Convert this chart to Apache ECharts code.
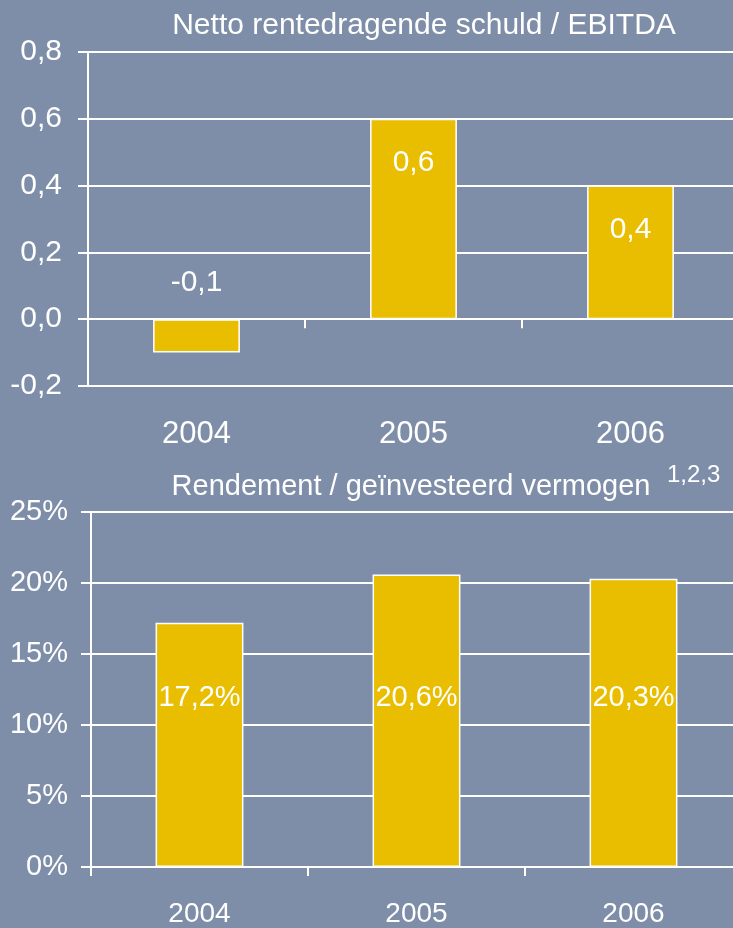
<!DOCTYPE html>
<html>
<head>
<meta charset="utf-8">
<script src="https://cdn.jsdelivr.net/npm/echarts@6/dist/echarts.min.js"></script>
<style>
  html, body { margin: 0; padding: 0; background: #7f8ea8; overflow: hidden; }
  #chart { width: 745px; height: 928px; }
</style>
</head>
<body>
<div id="chart"></div>
<script>
// data
const years = ['2004', '2005', '2006']
const debtRatio = [-0.1, 0.6, 0.4]
const returnPct = [17.2, 20.6, 20.3]
const debtTicks = { min: -0.2, max: 0.8, interval: 0.2 }
const returnTicks = { min: 0, max: 25, interval: 5 }

const white = '#ffffff'
const gold = '#e9be00'
const font = 'Liberation Sans, Arial, sans-serif'
const comma = (v, d) => v.toFixed(d).replace('.', ',')

// chart is a bit wider than the window so the plot runs off the right edge
const chart = echarts.init(document.getElementById('chart'))

const debtData = debtRatio.map(v => ({
  value: v,
  label: v < 0
    ? { position: 'top', distance: 21 }
    : { position: 'insideTop', distance: 29 }
}))

chart.setOption({
  backgroundColor: '#7f8ea8',
  animation: false,
  textStyle: { fontFamily: font },
  title: [
    {
      text: 'Netto rentedragende schuld / EBITDA',
      left: 419, top: 6, textAlign: 'center',
      textStyle: { color: white, fontSize: 30, fontWeight: 'normal', fontFamily: font }
    },
    {
      text: 'Rendement / geïnvesteerd vermogen',
      left: 406, top: 467, textAlign: 'center',
      textStyle: { color: white, fontSize: 29, fontWeight: 'normal', fontFamily: font }
    },
    {
      text: '1,2,3',
      left: 662, top: 458,
      textStyle: { color: white, fontSize: 24, fontWeight: 'normal', fontFamily: font }
    }
  ],
  grid: [
    { left: 88, right: 6, top: 52, bottom: 542 },
    { left: 91, right: 3, top: 512, bottom: 56 }
  ],
  xAxis: [
    {
      type: 'category', gridIndex: 0, data: years,
      axisLine: { show: false, onZero: false },
      axisTick: { show: false },
      axisLabel: { color: white, fontSize: 31, margin: 33 }
    },
    {
      type: 'category', gridIndex: 0, data: years, position: 'bottom',
      axisLine: { show: true, onZero: true, lineStyle: { color: white, width: 2 } },
      axisTick: { show: true, length: 9, lineStyle: { color: white, width: 2 } },
      axisLabel: { show: false }
    },
    {
      type: 'category', gridIndex: 1, data: years,
      axisLine: { lineStyle: { color: white, width: 2 } },
      axisTick: { show: true, length: 9, lineStyle: { color: white, width: 2 } },
      axisLabel: { color: white, fontSize: 28, margin: 33 }
    }
  ],
  yAxis: [
    {
      type: 'value', gridIndex: 0,
      min: debtTicks.min, max: debtTicks.max, interval: debtTicks.interval,
      axisLine: { show: true, lineStyle: { color: white, width: 2 } },
      axisTick: { show: true, length: 10, lineStyle: { color: white, width: 2 } },
      splitLine: { lineStyle: { color: white, width: 2 } },
      axisLabel: { color: white, fontSize: 30, margin: 26, formatter: v => comma(v, 1) }
    },
    {
      type: 'value', gridIndex: 1,
      min: returnTicks.min, max: returnTicks.max, interval: returnTicks.interval,
      axisLine: { show: true, lineStyle: { color: white, width: 2 } },
      axisTick: { show: true, length: 10, lineStyle: { color: white, width: 2 } },
      splitLine: { lineStyle: { color: white, width: 2 } },
      axisLabel: { color: white, fontSize: 29, margin: 23, formatter: v => v + '%' }
    }
  ],
  series: [
    {
      type: 'bar', xAxisIndex: 0, yAxisIndex: 0,
      data: debtData,
      barWidth: '40%',
      itemStyle: { color: gold, borderColor: white, borderWidth: 1.5 },
      label: {
        show: true, color: white, fontSize: 30,
        formatter: p => comma(p.value, 1)
      }
    },
    {
      type: 'bar', xAxisIndex: 2, yAxisIndex: 1,
      data: returnPct,
      barWidth: '40.5%',
      itemStyle: { color: gold, borderColor: white, borderWidth: 1.5 },
      label: {
        show: true, color: white, fontSize: 29,
        position: 'insideBottom', distance: 155,
        formatter: p => comma(p.value, 1) + '%'
      }
    }
  ]
})
</script>
</body>
</html>
